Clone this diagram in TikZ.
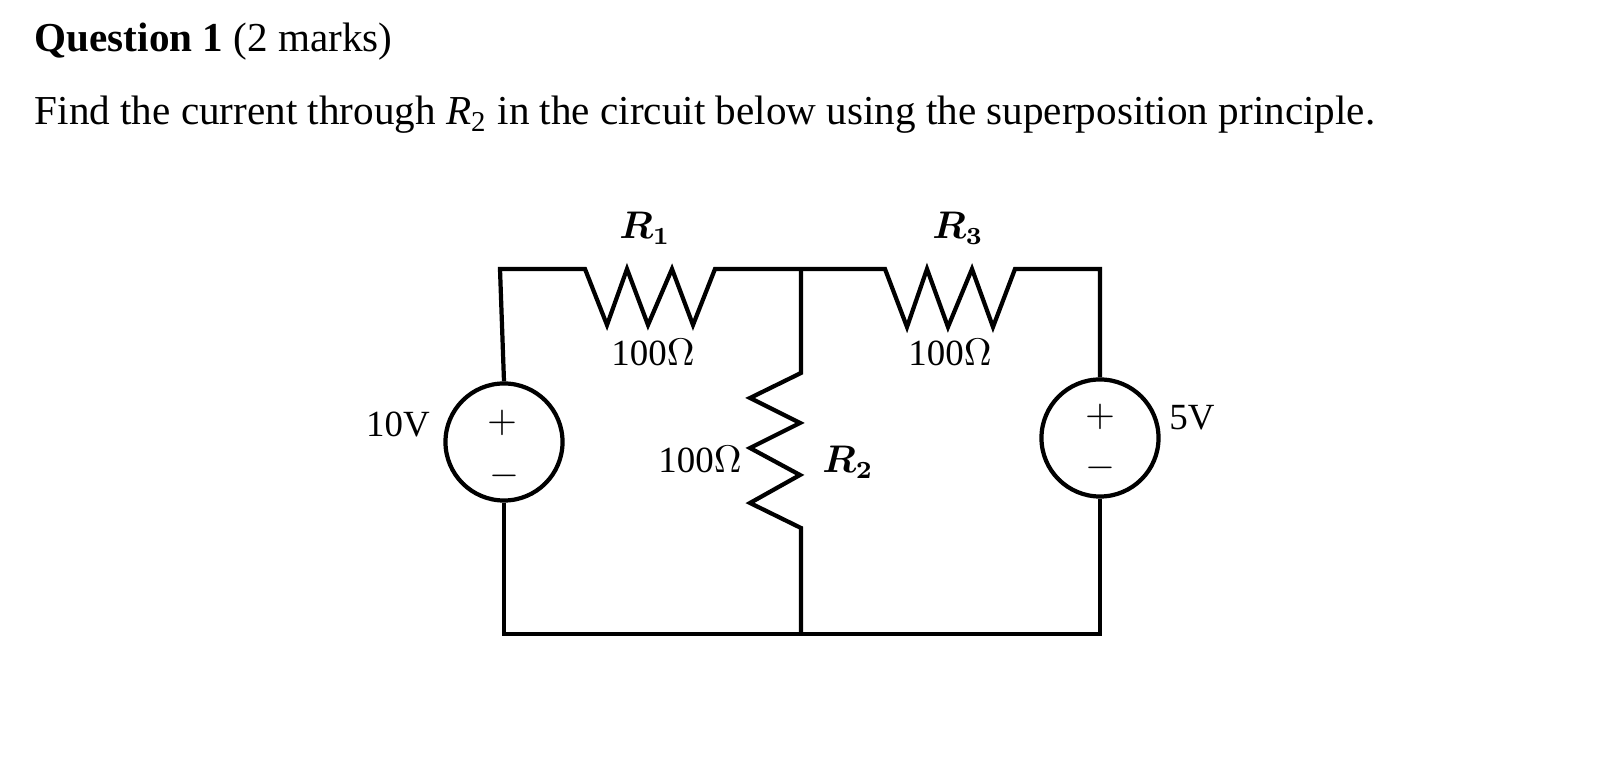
\documentclass[tikz,border=0pt]{standalone}
\usepackage{amsmath}
\usepackage{fontspec}
\setmainfont{Liberation Serif}
\tikzset{
    wire/.style={line width=1.2pt, line join=miter},
    src/.style={circle, draw, line width=1.2pt, minimum size=3.3cm*0.35, inner sep=0pt},
    lbl/.style={font=\fontsize{10.5}{12}\selectfont, inner sep=0pt},
    sign/.style={font=\fontsize{11}{12}\selectfont, inner sep=0pt}
}
\begin{document}
\begin{tikzpicture}[x=0.01cm, y=-0.01cm]
    \useasboundingbox (0,0) rectangle (1602,762);
    % text
    \node[anchor=base west, inner sep=0pt, font=\fontsize{11.7}{14}\selectfont] (title) at (34,52)
        {\textbf{Question 1} (2 marks)};
    \node[anchor=base west, inner sep=0pt, font=\fontsize{11.7}{14}\selectfont] (task) at (34,125)
        {Find the current through \textit{R}\textsubscript{2} in the circuit below using the superposition principle.};
    % sources
    \node[src, minimum size=1.17cm] (V1) at (504,442) {};
    \node[src, minimum size=1.17cm] (V2) at (1100,438) {};
    \node[sign] (p1) at (502,423) {$+$};
    \node[sign] (m1) at (504,476) {$-$};
    \node[sign] (p2) at (1100,417) {$+$};
    \node[sign] (m2) at (1100,468) {$-$};
    \node[lbl] (v1l) at (398,425) {10V};
    \node[lbl] (v2l) at (1192,418) {5V};
    % corners
    \coordinate (tl) at (500,269);
    \coordinate (tm) at (801,269);
    \coordinate (tr) at (1100,269);
    \coordinate (bl) at (504,634);
    \coordinate (bm) at (801,634);
    \coordinate (br) at (1100,634);
    % wires with resistors
    \draw[wire] (V1.north) -- (tl) -- (585,269)
        -- (607,325) -- (627,269) -- (648,325) -- (672,269) -- (693,325) -- (715,269)
        -- (tm) -- (885,269)
        -- (907,327) -- (927,269) -- (948,327) -- (972,269) -- (993,327) -- (1015,269)
        -- (tr) -- (V2.north);
    \draw[wire] (tm) -- (801,373)
        -- (750,398) -- (800,423) -- (750,448) -- (800,475) -- (750,503) -- (801,528)
        -- (bm);
    \draw[wire] (V1.south) -- (bl) -- (bm) -- (br) -- (V2.south);
    % labels
    \node[lbl] (r1) at (645,228) {$\boldsymbol{R_1}$};
    \node[lbl] (r1v) at (653,353) {100$\Omega$};
    \node[lbl] (r3) at (958,228) {$\boldsymbol{R_3}$};
    \node[lbl] (r3v) at (950,353) {100$\Omega$};
    \node[lbl] (r2) at (848,462) {$\boldsymbol{R_2}$};
    \node[lbl] (r2v) at (700,460) {100$\Omega$};
\end{tikzpicture}
\end{document}
